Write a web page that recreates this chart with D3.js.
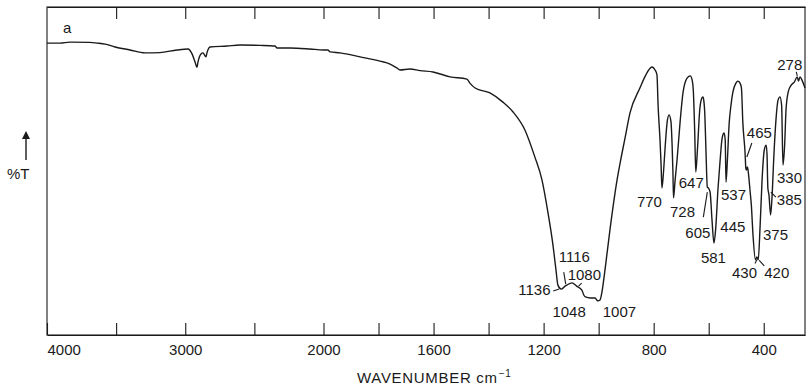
<!DOCTYPE html>
<html>
<head>
<meta charset="utf-8">
<script src="https://cdn.jsdelivr.net/npm/d3@7"></script>
<style>
  html, body { margin: 0; padding: 0; background: #fff; }
  svg { display: block; font-family: "Liberation Sans", Arial, Helvetica, sans-serif; }
  .axis path, .axis line { stroke: #1a1a1a; stroke-width: 1.1; }
  .axis text { font-size: 15px; fill: #1a1a1a; font-family: "Liberation Sans", Arial, sans-serif; }
</style>
</head>
<body>
<svg id="chart" width="806" height="390"></svg>
<script>
// IR transmission spectrum, wavenumber (cm-1) vs %T
const wavenumbers = [
  4000, 3906, 3834, 3689, 3638, 3580, 3508, 3400, 3291, 3183, 3060, 2980, 2951, 2929, 2915, 2908,
  2886, 2872, 2850, 2843, 2821, 2698, 2604, 2459, 2351, 2336, 2242, 2098, 2000, 1984, 1976, 1940,
  1867, 1795, 1758, 1733, 1722, 1686, 1649, 1602, 1540, 1479, 1468, 1449, 1395, 1348, 1311, 1268,
  1232, 1206, 1184, 1166, 1155, 1148, 1136, 1122, 1116, 1097, 1080, 1061, 1054, 1048, 1030, 1013,
  1007, 1003, 995, 988, 977, 959, 933, 922, 904, 886, 850, 832, 813, 806, 795, 788,
  784, 777, 773, 770, 764, 759, 751, 744, 737, 733, 730, 728, 722, 715, 704, 693,
  678, 667, 660, 656, 651, 647, 641, 632, 624, 621, 618, 614, 610, 605, 601, 595,
  588, 581, 575, 566, 559, 551, 544, 540, 537, 532, 526, 519, 512, 501, 494, 486,
  481, 476, 468, 465, 463, 459, 455, 450, 445, 439, 430, 425, 420, 413, 406, 398,
  391, 388, 385, 381, 375, 370, 363, 355, 348, 341, 335, 330, 324, 319, 311, 300,
  289, 278, 274, 268, 261, 250
];
const transmittance = [
  89.0, 89.0, 89.3, 89.2, 89.0, 88.7, 87.8, 86.9, 86.0, 86.1, 86.9, 87.2, 85.7, 83.2, 81.6, 83.2,
  85.7, 86.0, 84.8, 86.0, 87.8, 88.1, 88.4, 88.3, 88.1, 87.5, 87.5, 87.2, 86.9, 86.9, 86.3, 86.0,
  84.8, 83.5, 82.6, 81.4, 80.8, 81.1, 80.6, 80.2, 78.7, 78.0, 76.8, 75.3, 73.8, 71.0, 68.0, 62.5,
  54.3, 47.3, 37.2, 27.4, 19.8, 15.2, 14.0, 14.9, 15.2, 15.9, 14.9, 13.7, 12.2, 11.6, 11.3, 11.3,
  10.7, 10.4, 10.7, 13.1, 19.8, 32.0, 47.3, 52.4, 60.1, 67.7, 75.3, 78.7, 81.3, 81.7, 80.8, 79.3,
  70.1, 59.5, 51.8, 44.8, 50.0, 56.4, 64.9, 67.1, 64.9, 57.9, 49.7, 41.8, 47.3, 53.4, 64.9, 74.1,
  78.4, 79.0, 77.7, 74.7, 62.5, 49.7, 56.4, 69.2, 72.4, 72.6, 71.6, 67.1, 56.4, 45.1, 44.8, 43.6,
  35.1, 28.0, 32.0, 44.8, 52.7, 60.1, 61.6, 59.5, 46.6, 53.4, 64.0, 70.1, 74.1, 76.8, 77.4, 76.8,
  75.3, 64.9, 55.8, 50.9, 50.3, 51.2, 48.8, 44.2, 39.6, 30.5, 22.9, 23.8, 22.9, 33.5, 47.3, 56.4,
  57.9, 54.9, 44.8, 42.7, 36.6, 41.8, 54.9, 66.2, 71.6, 72.6, 70.1, 51.8, 57.9, 68.6, 74.1, 76.2,
  77.1, 78.7, 77.4, 78.7, 77.7, 75.3
];

// axis ticks: every tick position, and the ones that carry a number
const tickValues = [4000, 3500, 3000, 2500, 2000, 1800, 1600, 1400, 1200, 1000, 800, 600, 400];
const tickLabels = [4000, 3000, 2000, 1600, 1200, 800, 400];

// assigned band positions (cm-1)
const bandLabels = [1136, 1116, 1080, 1048, 1007, 770, 728, 647, 605, 581, 537, 465, 445, 430, 420, 385, 375, 330, 278];

// text placement of each band label (left edge / baseline offset from the band point)
const labelOffset = {
  1136: [-43, 6], 1116: [-8, -23], 1080: [-9, -6], 1048: [-33, 20], 1007: [6, 17],
  770: [-25, 19], 728: [-3.5, 19], 647: [-17, 16], 605: [-22, 51], 581: [-13, 20],
  537: [-5, 18], 465: [1, -30], 445: [-31, 27], 430: [-23.5, 18], 420: [6, 18],
  385: [9, 17], 375: [-7.6, 25], 330: [-6, 18], 278: [-20, -7]
};
// short leader strokes from a label towards its band
const leaderOffset = {
  1136: [[-8, 2], [-2, 0]], 1116: [[-3, -13], [-1, -1]], 1080: [[5, -3], [2, 0]],
  605: [[-4, 30], [0, 5]], 465: [[6, -25], [1, -11]], 430: [[-0.5, 3.5], [1.5, -0.5]],
  420: [[6, 6], [1, 0.5]], 385: [[3, 4], [8, 9]], 278: [[-1, -5], [0, -1]]
};

const svg = d3.select("#chart");
const plotLeft = 47, plotRight = 805, plotTop = 7, plotBottom = 335;

// double-scale wavenumber axis: 4000-2000 compressed, 2000-250 expanded x2
const x = d3.scaleLinear().domain([4000, 2000, 250]).range([plotLeft, 323.5, plotRight]);
const y = d3.scaleLinear().domain([0, 100]).range([plotBottom, plotTop]);

const ink = "#1a1a1a";

// frame
svg.append("rect")
  .attr("x", plotLeft).attr("y", plotTop)
  .attr("width", plotRight - plotLeft).attr("height", plotBottom - plotTop)
  .attr("fill", "none").attr("stroke", ink).attr("stroke-width", 1.1);

// bottom axis with inward ticks
const xAxis = d3.axisBottom(x)
  .tickValues(tickValues)
  .tickSizeInner(-12).tickSizeOuter(0).tickPadding(9)
  .tickFormat(d => tickLabels.includes(d) ? d : "");
const gx = svg.append("g").attr("class", "axis")
  .attr("transform", `translate(0,${plotBottom})`).call(xAxis);
gx.selectAll(".tick text").filter(d => d === 4000).attr("text-anchor", "start");

// top axis, ticks only
const xTop = d3.axisTop(x)
  .tickValues(tickValues.filter(d => d !== 4000))
  .tickSizeInner(-12).tickSizeOuter(0).tickFormat("");
svg.append("g").attr("class", "axis")
  .attr("transform", `translate(0,${plotTop})`).call(xTop);

// spectrum trace
const pts = wavenumbers.map((w, i) => [w, transmittance[i]]);
const line = d3.line()
  .x(d => x(d[0])).y(d => y(d[1]))
  .curve(d3.curveMonotoneX);
svg.append("path")
  .datum(pts)
  .attr("d", line)
  .attr("fill", "none")
  .attr("stroke", ink)
  .attr("stroke-width", 1.4)
  .attr("stroke-linejoin", "round");

// band labels
const tAt = w => transmittance[wavenumbers.indexOf(w)];
const lab = svg.append("g")
  .attr("font-size", 15).attr("fill", ink)
  .attr("font-family", "'Liberation Sans', Arial, sans-serif");
bandLabels.forEach(w => {
  const px = x(w), py = y(tAt(w));
  const [dx, dy] = labelOffset[w];
  lab.append("text").attr("x", px + dx).attr("y", py + dy).text(w);
  const ld = leaderOffset[w];
  if (ld) {
    svg.append("line")
      .attr("x1", px + ld[0][0]).attr("y1", py + ld[0][1])
      .attr("x2", px + ld[1][0]).attr("y2", py + ld[1][1])
      .attr("stroke", ink).attr("stroke-width", 1.1);
  }
});

// spectrum tag
svg.append("text").attr("x", 63).attr("y", 33)
  .attr("font-size", 15).attr("fill", ink).text("a");

// y-axis indicator: arrow and %T
svg.append("line").attr("x1", 26).attr("y1", 160).attr("x2", 26).attr("y2", 138)
  .attr("stroke", ink).attr("stroke-width", 1.4);
svg.append("path").attr("d", "M26,131 L22,139 L30,139 Z").attr("fill", ink);
svg.append("text").attr("x", 7).attr("y", 179)
  .attr("font-size", 15).attr("fill", ink).text("%T");

// x-axis title
const title = svg.append("text")
  .attr("x", 357).attr("y", 383)
  .attr("font-size", 15).attr("letter-spacing", 0.7).attr("fill", ink);
title.append("tspan").text("WAVENUMBER cm");
title.append("tspan").attr("font-size", 10).attr("dy", -6).attr("dx", 1).text("−1");
</script>
</body>
</html>
